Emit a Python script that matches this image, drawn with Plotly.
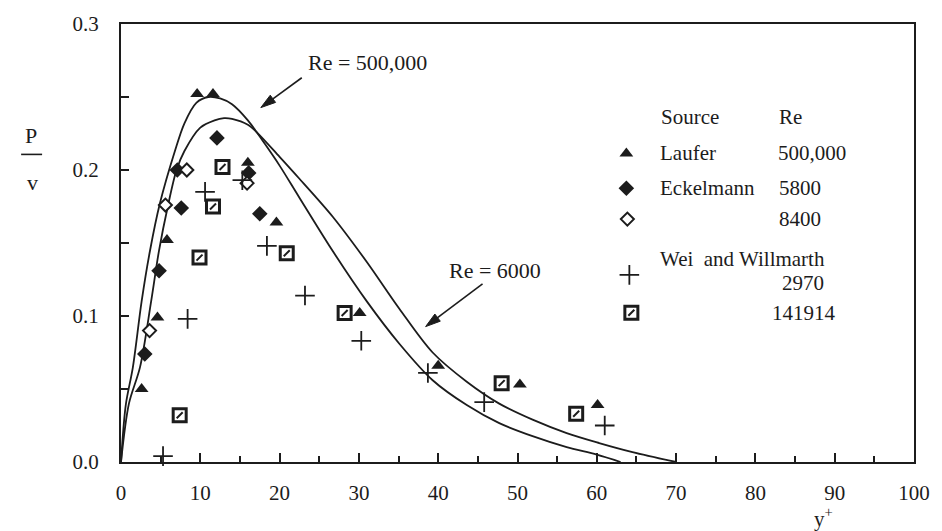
import plotly.graph_objects as go

# ---- measured turbulence-production profiles P/nu versus y+ ----
laufer_x = [2.6, 4.6, 5.8, 9.6, 11.6, 16.0, 19.6, 30.1, 40.0, 50.3, 60.1]
laufer_y = [0.050, 0.099, 0.152, 0.252, 0.252, 0.205, 0.164, 0.102, 0.066, 0.053, 0.039]

eckel5800_x = [3.0, 4.8, 7.1, 7.6, 12.1, 16.1, 17.5]
eckel5800_y = [0.074, 0.131, 0.200, 0.174, 0.222, 0.198, 0.170]

eckel8400_x = [3.6, 5.6, 8.3, 15.9]
eckel8400_y = [0.090, 0.176, 0.200, 0.191]

wei2970_x = [5.3, 8.4, 10.6, 15.3, 18.4, 23.2, 30.3, 38.7, 45.8, 61.0]
wei2970_y = [0.004, 0.098, 0.185, 0.193, 0.148, 0.114, 0.083, 0.061, 0.041, 0.025]

wei141914_x = [7.4, 9.9, 11.6, 12.8, 20.9, 28.2, 48.0, 57.4]
wei141914_y = [0.032, 0.140, 0.175, 0.202, 0.143, 0.102, 0.054, 0.033]

# ---- computed profiles ----
re500k_x = [0, 0.6, 1.5, 2.6, 3.65, 4.9, 6.8, 8.0, 9.5, 11.0, 12.5, 14.0,
            16.0, 17.1, 18.0, 20.0, 22.5, 26.7, 31.0, 35.1, 39.3, 43.6, 47.7,
            51.9, 56.2, 60.0, 63.0]
re500k_y = [0, 0.039, 0.065, 0.110, 0.1445, 0.177, 0.213, 0.232, 0.246,
            0.250, 0.249, 0.245, 0.234, 0.226, 0.219, 0.203, 0.181, 0.1445,
            0.110, 0.081, 0.056, 0.039, 0.0266, 0.0177, 0.0102, 0.005, 0.0]

re6000_x = [0, 1.0, 2.4, 3.8, 4.8, 5.9, 7.0, 8.0, 10.0, 11.8, 13.0, 14.0,
            16.0, 17.1, 20.0, 22.5, 26.7, 31.0, 35.1, 39.3, 43.6, 47.7, 51.9,
            56.2, 60.3, 64.5, 70.0]
re6000_y = [0, 0.040, 0.065, 0.110, 0.145, 0.175, 0.200, 0.213, 0.229,
            0.234, 0.2355, 0.235, 0.231, 0.226, 0.209, 0.194, 0.168, 0.137,
            0.105, 0.075, 0.055, 0.040, 0.029, 0.0198, 0.013, 0.0068, 0.0]

x_ticks = [0, 10, 20, 30, 40, 50, 60, 70, 80, 90, 100]
y_ticks = [0.0, 0.1, 0.2, 0.3]
y_tick_text = ["0.0", "0.1", "0.2", "0.3"]

INK = "#1c1c1c"
FONT = "Liberation Serif"

# plot-area edges in page pixels, used to place the key, labels and arrows
L, R, T, B = 121, 915, 22, 462


def fx(p):
    return (p - L) / (R - L)


def fy(p):
    return (B - p) / (B - T)


fig = go.Figure()

for xs, ys in [(re500k_x, re500k_y), (re6000_x, re6000_y)]:
    fig.add_trace(go.Scatter(x=xs, y=ys, mode="lines",
                             line=dict(color=INK, width=1.8, shape="spline", smoothing=0.9),
                             showlegend=False, hoverinfo="skip"))

tri = dict(symbol="triangle-up", size=12, color=INK)
dia = dict(symbol="diamond", size=12, color=INK)
dia_open = dict(symbol="diamond", size=10, color="white", line=dict(color=INK, width=2))
plus = dict(symbol="cross-thin", size=14, line=dict(color=INK, width=1.8))
sq = dict(symbol="square", size=13, color="white", line=dict(color=INK, width=3))
sq_slash = dict(symbol="line-ne", size=6, line=dict(color=INK, width=2))

series = [
    (laufer_x, laufer_y, [tri]),
    (eckel5800_x, eckel5800_y, [dia]),
    (eckel8400_x, eckel8400_y, [dia_open]),
    (wei2970_x, wei2970_y, [plus]),
    (wei141914_x, wei141914_y, [sq, sq_slash]),
]
for xs, ys, markers in series:
    for m in markers:
        fig.add_trace(go.Scatter(x=xs, y=ys, mode="markers", marker=m,
                                 showlegend=False, cliponaxis=False))

# key symbols on a hidden overlay axis spanning the plot area
key_px = [(627, 152, [tri]), (627, 187, [dia]), (628, 218, [dia_open]),
          (630, 274, [plus]), (632, 312, [sq, sq_slash])]
for kx, ky, markers in key_px:
    for m in markers:
        fig.add_trace(go.Scatter(x=[fx(kx)], y=[fy(ky)], xaxis="x2", yaxis="y2",
                                 mode="markers", marker=m, showlegend=False,
                                 cliponaxis=False, hoverinfo="skip"))

annotations = []


def text_at(px, py, s, size=21, anchor="left"):
    annotations.append(dict(x=fx(px), y=fy(py), xref="paper", yref="paper",
                            text=s, showarrow=False, xanchor=anchor, yanchor="middle",
                            font=dict(family=FONT, size=size, color=INK)))


# key table
text_at(660, 115, "Source")
text_at(778, 115, "Re")
text_at(659, 152, "Laufer")
text_at(777, 152, "500,000")
text_at(659, 187, "Eckelmann")
text_at(778, 187, "5800")
text_at(778, 218, "8400")
text_at(659, 258, "Wei  and Willmarth")
text_at(781, 282, "2970")
text_at(771, 312, "141914")

# curve labels
text_at(368, 61, "Re = 500,000", size=22, anchor="center")
text_at(495, 270, "Re = 6000", size=22, anchor="center")

# axis titles
text_at(31, 134, "P", size=22, anchor="center")
text_at(32, 181, "v", size=22, anchor="center")
text_at(824, 518, "y<sup>+</sup>", size=21, anchor="center")

shapes = [dict(type="line", xref="paper", yref="paper",
               x0=fx(21), x1=fx(42), y0=fy(153), y1=fy(153),
               line=dict(color=INK, width=1.6))]


def arrow(tail, head, head_len=15, head_half=4.5):
    """Straight arrow drawn as a shaft plus a filled head, in page pixels."""
    tx, ty = tail
    hx, hy = head
    dx, dy = hx - tx, hy - ty
    n = (dx * dx + dy * dy) ** 0.5
    ux, uy = dx / n, dy / n
    bx, by = hx - ux * head_len, hy - uy * head_len
    px_, py_ = -uy * head_half, ux * head_half
    shapes.append(dict(type="line", xref="paper", yref="paper",
                       x0=fx(tx), y0=fy(ty), x1=fx(bx), y1=fy(by),
                       line=dict(color=INK, width=1.6)))
    pts = [(hx, hy), (bx + px_, by + py_), (bx - px_, by - py_)]
    path = "M " + " L ".join(f"{fx(a):.5f},{fy(b):.5f}" for a, b in pts) + " Z"
    shapes.append(dict(type="path", xref="paper", yref="paper", path=path,
                       fillcolor=INK, line=dict(color=INK, width=1)))


arrow((302, 76), (261, 106))
arrow((483, 283), (426, 326))

fig.update_layout(
    width=942, height=531,
    margin=dict(l=L, r=942 - R, t=T, b=531 - B),
    paper_bgcolor="white", plot_bgcolor="white",
    font=dict(family=FONT, size=21, color=INK),
    annotations=annotations,
    shapes=shapes,
    xaxis=dict(range=[0, 100], tickvals=x_ticks, ticks="inside", ticklen=9,
               tickwidth=1.5, tickcolor=INK,
               minor=dict(dtick=5, tick0=0, ticks="inside", ticklen=6,
                          tickwidth=1.5, tickcolor=INK),
               showline=True, linewidth=2, linecolor=INK, mirror=True,
               showgrid=False, zeroline=False, ticklabelstandoff=11,
               tickfont=dict(family=FONT, size=21, color=INK)),
    yaxis=dict(range=[0, 0.3], tickvals=y_ticks, ticktext=y_tick_text,
               ticks="inside", ticklen=8, tickwidth=1.5, tickcolor=INK,
               minor=dict(dtick=0.05, tick0=0, ticks="inside", ticklen=8,
                          tickwidth=1.5, tickcolor=INK),
               showline=True, linewidth=2, linecolor=INK, mirror=True,
               showgrid=False, zeroline=False, ticklabelstandoff=16,
               tickfont=dict(family=FONT, size=21, color=INK)),
    xaxis2=dict(overlaying="x", range=[0, 1], visible=False),
    yaxis2=dict(overlaying="y", range=[0, 1], visible=False),
    showlegend=False,
)

fig.write_html("out.html")
